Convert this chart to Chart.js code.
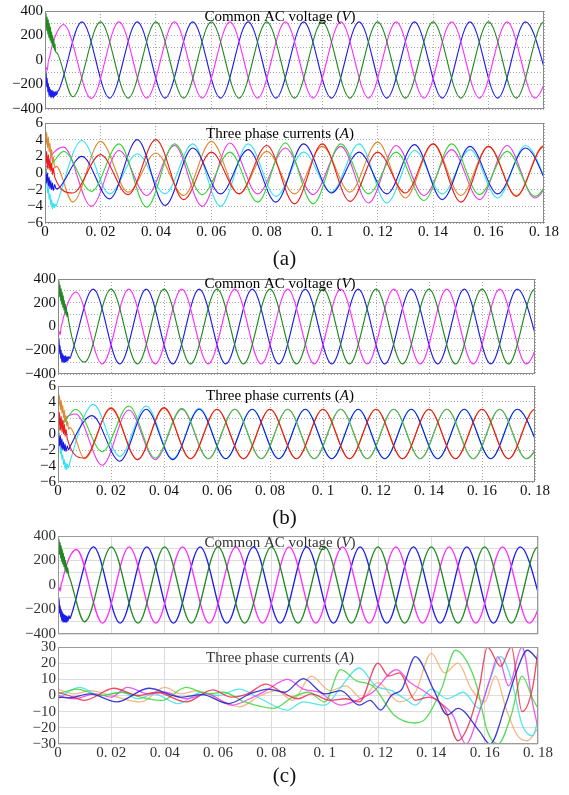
<!DOCTYPE html>
<html>
<head>
<meta charset="utf-8">
<script src="https://cdn.jsdelivr.net/npm/chart.js@4.4.1/dist/chart.umd.min.js"></script>
<style>
  body { margin: 0; background: #fff; }
  #wrap { position: relative; width: 569px; height: 795px; overflow: hidden; background: #fff; }
  canvas { position: absolute; left: 0; }
  .cap { position: absolute; left: 0; width: 569px; text-align: center; font: 21px "Liberation Serif", serif; color: #111; }
</style>
</head>
<body>
<div id="wrap">
  <canvas id="va" width="569" height="120" style="top:0px"></canvas>
  <canvas id="ca" width="569" height="135" style="top:112px"></canvas>
  <canvas id="vb" width="569" height="120" style="top:266px"></canvas>
  <canvas id="cb" width="569" height="130" style="top:375px"></canvas>
  <canvas id="vc" width="569" height="120" style="top:525px"></canvas>
  <canvas id="cc" width="569" height="130" style="top:636px"></canvas>
  <div class="cap" style="top:246px">(a)</div>
  <div class="cap" style="top:505px">(b)</div>
  <div class="cap" style="top:763px">(c)</div>
</div>
<script>
// ---- data: [time (s), value] ----

// (a) common AC voltage
const voltA_green = [[0,395],[0.0002,300],[0.0004,380],[0.0006,240],[0.0008,350],[0.001,210],[0.0012,330],[0.0014,180],[0.0016,300],[0.0018,160],[0.002,270],[0.0022,140],[0.0024,230],[0.0026,120],[0.0028,200],[0.003,100],[0.0032,170],[0.0034,80],[0.0036,130],[0.0038,70],[0.0042,60],
  [0.01,-300],[0.02,311],[0.03,-311],[0.04,311],[0.05,-311],[0.06,311],[0.07,-311],[0.08,311],[0.09,-311],[0.1,311],[0.11,-311],[0.12,311],[0.13,-311],[0.14,311],[0.15,-311],[0.16,311],[0.17,-311],[0.18,311],[0.19,-311]];
const voltA_magenta = [[0,-110],[0.0004,-60],[0.0008,-85],[0.0012,-10],[0.0016,20],[0.002,60],[0.0025,110],[0.003,150],[0.004,210],[0.005,255],
  [0.0067,290],[0.0167,-315],[0.0267,311],[0.0367,-311],[0.0467,311],[0.0567,-311],[0.0667,311],[0.0767,-311],[0.0867,311],[0.0967,-311],[0.1067,311],[0.1167,-311],[0.1267,311],[0.1367,-311],[0.1467,311],[0.1567,-311],[0.1667,311],[0.1767,-311],[0.1867,311]];
const voltA_blue = [[0,-30],[0.0002,-150],[0.0004,-90],[0.0006,-220],[0.0008,-150],[0.001,-260],[0.0012,-190],[0.0014,-290],[0.0016,-220],[0.0018,-300],[0.002,-240],[0.0022,-310],[0.0024,-250],[0.0026,-300],[0.0028,-250],[0.003,-310],[0.0032,-260],[0.0034,-300],[0.0036,-260],[0.0038,-290],[0.004,-255],[0.0042,-285],[0.0046,-255],[0.005,-245],
  [0.0133,311],[0.0233,-311],[0.0333,311],[0.0433,-311],[0.0533,311],[0.0633,-311],[0.0733,311],[0.0833,-311],[0.0933,311],[0.1033,-311],[0.1133,311],[0.1233,-311],[0.1333,311],[0.1433,-311],[0.1533,311],[0.1633,-311],[0.1733,311],[0.1833,-311]];

// (a) three phase currents
const curA_red = [[0,2.8],[0.0003,1.0],[0.0006,2.6],[0.0009,0.6],[0.0012,2.2],[0.0015,0.4],[0.0018,1.6],[0.0021,0.2],[0.0024,1.2],[0.0027,-0.2],[0.003,0.6],[0.0035,-0.5],
  [0.01,-2.4],[0.02,2.2],[0.03,-2.6],[0.04,4.0],[0.05,-3.2],[0.06,2.5],[0.07,-2.5],[0.08,3.3],[0.09,-3.7],[0.1,3.5],[0.11,-3.4],[0.12,2.5],[0.13,-2.4],[0.14,3.5],[0.15,-3.5],[0.16,3.2],[0.17,-2.8],[0.18,3.2],[0.19,-3]];
const curA_green = [[0,0.2],[0.001,0.6],[0.002,0.9],[0.003,1.3],
  [0.0067,2.6],[0.0167,-2.2],[0.0267,3.5],[0.0367,-4.1],[0.0467,3.5],[0.0567,-2.6],[0.0667,2.5],[0.0767,-3.5],[0.0867,3.6],[0.0967,-3.7],[0.1067,3.5],[0.1167,-2.5],[0.1267,2.5],[0.1367,-3.3],[0.1467,3.5],[0.1567,-2.6],[0.1667,2.6],[0.1767,-2.8],[0.1867,3]];
const curA_blue = [[0,-0.3],[0.0003,0.5],[0.0006,-1.2],[0.0009,0],[0.0012,-1.6],[0.0015,-0.5],[0.0018,-1.9],[0.0021,-0.9],[0.0024,-2.0],[0.0027,-1.2],[0.003,-2.1],[0.0035,-1.4],[0.004,-1.9],[0.005,-1.8],
  [0.0133,2.0],[0.0233,-3.1],[0.0333,4.0],[0.0433,-3.9],[0.0533,3.0],[0.0633,-2.5],[0.0733,2.8],[0.0833,-3.5],[0.0933,3.5],[0.1033,-2.4],[0.1133,2.5],[0.1233,-2.5],[0.1333,3.4],[0.1433,-3.2],[0.1533,3.2],[0.1633,-2.5],[0.1733,3.0],[0.1833,-3]];
const curA_orange = [[0,5.2],[0.0003,3.4],[0.0006,4.9],[0.0009,3.0],[0.0012,4.3],[0.0015,2.5],[0.0018,3.6],[0.0021,1.8],[0.0024,2.8],[0.0027,1.2],[0.003,1.9],[0.0035,0.6],[0.004,0.8],
  [0.01,-3.5],[0.02,3.8],[0.03,-2.3],[0.04,2.4],[0.05,-2.7],[0.06,3.8],[0.07,-2.5],[0.08,2.6],[0.09,-2.5],[0.1,3.2],[0.11,-2.3],[0.12,3.7],[0.13,-3.0],[0.14,3.5],[0.15,-2.7],[0.16,3.2],[0.17,-2.7],[0.18,3.3],[0.19,-3]];
const curA_magenta = [[0,0.5],[0.001,1.0],[0.002,1.8],[0.003,2.4],
  [0.0067,3.1],[0.0167,-4.0],[0.0267,2.7],[0.0367,-2.7],[0.0467,3.3],[0.0567,-4.0],[0.0667,3.6],[0.0767,-2.5],[0.0867,3.0],[0.0967,-2.6],[0.1067,3.2],[0.1167,-3.6],[0.1267,3.3],[0.1367,-2.7],[0.1467,2.8],[0.1567,-3.2],[0.1667,3.3],[0.1767,-3.0],[0.1867,3]];
const curA_cyan = [[0,0],[0.0003,-1.4],[0.0006,-0.7],[0.0009,-2.4],[0.0012,-1.7],[0.0015,-3.2],[0.0018,-2.5],[0.0021,-3.9],[0.0024,-3.2],[0.0027,-4.3],[0.003,-3.6],[0.0033,-4.2],[0.0036,-3.7],[0.004,-4.0],[0.0045,-3.5],
  [0.0133,3.9],[0.0233,-2.5],[0.0333,2.3],[0.0433,-2.5],[0.0533,3.5],[0.0633,-4.0],[0.0733,3.5],[0.0833,-2.8],[0.0933,2.5],[0.1033,-2.3],[0.1133,3.5],[0.1233,-3.6],[0.1333,2.7],[0.1433,-2.5],[0.1533,2.8],[0.1633,-3.0],[0.1733,3.3],[0.1833,-3]];

// (b) common AC voltage
const voltB_green = [[0,400],[0.0002,290],[0.0004,385],[0.0006,250],[0.0008,350],[0.001,215],[0.0012,320],[0.0014,185],[0.0016,290],[0.0018,160],[0.002,260],[0.0022,140],[0.0024,220],[0.0026,115],[0.0028,190],[0.003,95],[0.0032,160],[0.0034,80],[0.0036,120],[0.0039,60],
  [0.01,-300],[0.02,315],[0.03,-315],[0.04,315],[0.05,-315],[0.06,315],[0.07,-315],[0.08,315],[0.09,-315],[0.1,315],[0.11,-315],[0.12,315],[0.13,-315],[0.14,315],[0.15,-315],[0.16,315],[0.17,-315],[0.18,315],[0.19,-315]];
const voltB_magenta = [[0,-90],[0.0004,-40],[0.0008,-70],[0.0012,0],[0.0016,30],[0.002,70],[0.0025,110],[0.003,150],[0.004,210],[0.005,255],
  [0.0068,290],[0.0167,-315],[0.0267,315],[0.0367,-315],[0.0467,315],[0.0567,-315],[0.0667,315],[0.0767,-315],[0.0867,315],[0.0967,-315],[0.1067,315],[0.1167,-315],[0.1267,315],[0.1367,-315],[0.1467,315],[0.1567,-315],[0.1667,315],[0.1767,-315],[0.1867,315]];
const voltB_blue = [[0,-40],[0.0002,-160],[0.0004,-100],[0.0006,-230],[0.0008,-160],[0.001,-270],[0.0012,-200],[0.0014,-295],[0.0016,-225],[0.0018,-300],[0.002,-240],[0.0022,-305],[0.0024,-250],[0.0026,-300],[0.0028,-245],[0.003,-300],[0.0032,-255],[0.0034,-295],[0.0036,-255],[0.0038,-285],[0.0041,-250],[0.0045,-270],[0.005,-240],
  [0.0133,315],[0.0233,-315],[0.0333,315],[0.0433,-315],[0.0533,315],[0.0633,-315],[0.0733,315],[0.0833,-315],[0.0933,315],[0.1033,-315],[0.1133,315],[0.1233,-315],[0.1333,315],[0.1433,-315],[0.1533,315],[0.1633,-315],[0.1733,315],[0.1833,-315]];

// (b) three phase currents
const curB_red = [[0,2.6],[0.0003,0.8],[0.0006,2.7],[0.0009,0.5],[0.0012,2.2],[0.0015,0.2],[0.0018,1.8],[0.0021,0],[0.0024,1.2],[0.0027,-0.3],[0.003,0.6],[0.0035,-0.6],
  [0.0098,-3.0],[0.02,3.2],[0.03,-3.2],[0.04,3.3],[0.05,-3.1],[0.06,3.1],[0.07,-3.1],[0.08,3.1],[0.09,-3.1],[0.1,3.1],[0.11,-3.1],[0.12,3.1],[0.13,-3.1],[0.14,3.1],[0.15,-3.1],[0.16,3.1],[0.17,-3.1],[0.18,3.1],[0.19,-3.1]];
const curB_green = [[0,0.2],[0.001,0.8],[0.002,1.3],[0.003,1.8],
  [0.0067,3.1],[0.0167,-2.2],[0.0267,3.5],[0.0367,-3.0],[0.0467,3.2],[0.0567,-3.1],[0.0667,3.1],[0.0767,-3.1],[0.0867,3.1],[0.0967,-3.1],[0.1067,3.1],[0.1167,-3.1],[0.1267,3.1],[0.1367,-3.1],[0.1467,3.1],[0.1567,-3.1],[0.1667,3.1],[0.1767,-3.1],[0.1867,3.1]];
const curB_blue = [[0,-0.5],[0.0003,0.3],[0.0006,-1.5],[0.0009,-0.2],[0.0012,-1.8],[0.0015,-0.6],[0.0018,-2.0],[0.0021,-1.0],[0.0024,-2.1],[0.0027,-1.3],[0.003,-2.2],[0.0035,-1.5],[0.004,-2.0],[0.0045,-1.6],
  [0.0128,2.3],[0.0233,-3.4],[0.0333,3.1],[0.0433,-3.2],[0.0533,3.1],[0.0633,-3.1],[0.0733,3.1],[0.0833,-3.1],[0.0933,3.1],[0.1033,-3.1],[0.1133,3.1],[0.1233,-3.1],[0.1333,3.1],[0.1433,-3.1],[0.1533,3.1],[0.1633,-3.1],[0.1733,3.1],[0.1833,-3.1]];
const curB_orange = [[0,5.3],[0.0003,3.5],[0.0006,4.8],[0.0009,3.0],[0.0012,4.2],[0.0015,2.6],[0.0018,3.6],[0.0021,2.0],[0.0024,3.0],[0.0027,1.5],[0.003,2.3],[0.0033,1.0],[0.0036,1.6],[0.004,0.6],[0.0045,0.8],
  [0.01,-3.1],[0.02,3.3],[0.03,-3.2],[0.04,3.2],[0.05,-3.1],[0.06,3.1],[0.07,-3.1],[0.08,3.1],[0.09,-3.1],[0.1,3.1],[0.11,-3.1],[0.12,3.1],[0.13,-3.1],[0.14,3.1],[0.15,-3.1],[0.16,3.1],[0.17,-3.1],[0.18,3.1],[0.19,-3.1]];
const curB_magenta = [[0,0.4],[0.001,1.0],[0.002,1.5],[0.003,2.0],
  [0.0067,2.5],[0.0167,-3.9],[0.0267,3.0],[0.0367,-3.2],[0.0467,3.1],[0.0567,-3.1],[0.0667,3.1],[0.0767,-3.1],[0.0867,3.1],[0.0967,-3.1],[0.1067,3.1],[0.1167,-3.1],[0.1267,3.1],[0.1367,-3.1],[0.1467,3.1],[0.1567,-3.1],[0.1667,3.1],[0.1767,-3.1],[0.1867,3.1]];
const curB_cyan = [[0,0],[0.0003,-1.5],[0.0006,-0.8],[0.0009,-2.5],[0.0012,-1.8],[0.0015,-3.2],[0.0018,-2.6],[0.0021,-3.8],[0.0024,-3.2],[0.0027,-4.4],[0.003,-3.6],[0.0033,-4.5],[0.0036,-3.8],[0.004,-4.2],[0.0045,-3.5],
  [0.0133,3.7],[0.0233,-2.8],[0.0333,3.5],[0.0433,-3.1],[0.0533,3.2],[0.0633,-3.1],[0.0733,3.1],[0.0833,-3.1],[0.0933,3.1],[0.1033,-3.1],[0.1133,3.1],[0.1233,-3.1],[0.1333,3.1],[0.1433,-3.1],[0.1533,3.1],[0.1633,-3.1],[0.1733,3.1],[0.1833,-3.1]];

// (c) common AC voltage
const voltC_green = [[0,395],[0.0002,300],[0.0004,370],[0.0006,250],[0.0008,345],[0.001,220],[0.0012,320],[0.0014,190],[0.0016,290],[0.0018,170],[0.002,260],[0.0022,150],[0.0024,230],[0.0026,130],[0.0028,200],[0.003,110],[0.0032,170],[0.0034,95],[0.0036,140],[0.004,80],[0.0045,50],
  [0.01,-300],[0.02,311],[0.03,-311],[0.04,311],[0.05,-311],[0.06,311],[0.07,-311],[0.08,311],[0.09,-311],[0.1,311],[0.11,-311],[0.12,311],[0.13,-311],[0.14,311],[0.15,-311],[0.16,311],[0.17,-311],[0.18,311],[0.19,-311]];
const voltC_magenta = [[0,-60],[0.0004,-20],[0.0008,-50],[0.0012,10],[0.0016,30],[0.002,70],[0.0025,110],[0.003,150],[0.004,210],[0.005,255],
  [0.0069,290],[0.0167,-311],[0.0267,311],[0.0367,-311],[0.0467,311],[0.0567,-311],[0.0667,311],[0.0767,-311],[0.0867,311],[0.0967,-311],[0.1067,311],[0.1167,-311],[0.1267,311],[0.1367,-311],[0.1467,311],[0.1567,-311],[0.1667,311],[0.1767,-311],[0.1867,311]];
const voltC_blue = [[0,-60],[0.0002,-170],[0.0004,-110],[0.0006,-230],[0.0008,-170],[0.001,-260],[0.0012,-200],[0.0014,-290],[0.0016,-220],[0.0018,-300],[0.002,-235],[0.0022,-305],[0.0024,-245],[0.0026,-300],[0.0028,-250],[0.003,-305],[0.0032,-255],[0.0034,-300],[0.0036,-260],[0.0038,-290],[0.0041,-250],[0.0045,-275],[0.005,-245],
  [0.0133,311],[0.0233,-311],[0.0333,311],[0.0433,-311],[0.0533,311],[0.0633,-311],[0.0733,311],[0.0833,-311],[0.0933,311],[0.1033,-311],[0.1133,311],[0.1233,-311],[0.1333,311],[0.1433,-311],[0.1533,311],[0.1633,-311],[0.1733,311],[0.1833,-311]];

// (c) three phase currents
const curC_red = [[0,2],[0.004,0],[0.01,-3],[0.021,4.5],[0.03,0],[0.037,2],[0.048,-4],[0.058,3.5],[0.065,-1],[0.071,1],[0.078,7],[0.084,2],[0.09,-2],[0.095,1],[0.102,-3],[0.108,-2],[0.113,-4],[0.12,20],[0.124,12],[0.128,14],[0.134,-3],[0.139,-1],[0.145,-8],[0.15,-28],[0.154,-18],[0.158,5],[0.161,30],[0.166,18],[0.17,30],[0.174,-10],[0.178,5],[0.18,28]];
const curC_green = [[0,1],[0.007,4],[0.016,0],[0.024,2],[0.031,-1],[0.039,-3],[0.048,5],[0.056,1],[0.062,2],[0.07,-4],[0.081,-8],[0.088,-1],[0.094,2],[0.1,-4],[0.106,16],[0.112,9],[0.118,6],[0.126,-12],[0.134,-17],[0.138,-14],[0.144,5],[0.149,28],[0.153,22],[0.157,6],[0.161,-22],[0.165,-30],[0.17,-12],[0.174,12],[0.178,-2],[0.18,-8]];
const curC_blue = [[0,-1],[0.004,-1.5],[0.012,1],[0.022,-4],[0.034,4.5],[0.046,-1],[0.054,0.5],[0.064,-5],[0.072,1],[0.079,4],[0.085,2],[0.092,10.5],[0.1,1],[0.106,3],[0.113,-6],[0.117,-3],[0.121,-9],[0.125,0],[0.129,4],[0.134,24],[0.141,3],[0.146,-12],[0.15,-8],[0.158,-22],[0.162,-30],[0.168,-5],[0.172,15],[0.176,28],[0.18,22]];
const curC_magenta = [[0,0],[0.006,-2],[0.014,1],[0.02,-1],[0.026,5],[0.034,1],[0.04,2],[0.048,-2],[0.056,1],[0.065,-6],[0.072,-2],[0.078,3],[0.086,10],[0.092,4],[0.098,2],[0.106,-6],[0.112,-3],[0.118,2],[0.127,16],[0.132,8],[0.136,4],[0.142,-3],[0.148,-12],[0.153,-30],[0.158,-10],[0.162,10],[0.165,24],[0.169,6],[0.174,30],[0.178,-5],[0.18,-20]];
const curC_cyan = [[0,-2],[0.008,5],[0.016,0],[0.024,2],[0.03,-2],[0.036,1],[0.045,-5],[0.054,2],[0.06,0],[0.068,4],[0.076,-2],[0.086,-9],[0.092,-4],[0.1,-6],[0.106,5],[0.113,17],[0.119,6],[0.125,3],[0.13,-2],[0.134,-6],[0.14,4],[0.146,-2],[0.152,2],[0.158,-8],[0.162,10],[0.166,24],[0.17,10],[0.174,-18],[0.178,-25],[0.18,-15]];
const curC_orange = [[0,4],[0.006,1],[0.012,3],[0.02,0],[0.031,-4],[0.04,5],[0.046,1],[0.052,3],[0.06,-2],[0.068,-7],[0.076,0],[0.082,3],[0.088,-3],[0.095,12],[0.102,3],[0.108,6],[0.114,-2],[0.12,8],[0.128,-4],[0.134,2],[0.14,26],[0.145,14],[0.15,20],[0.155,4],[0.16,-4],[0.164,12],[0.168,-8],[0.172,-24],[0.176,-28],[0.18,-20]];

const timeTicks = [0, 0.02, 0.04, 0.06, 0.08, 0.1, 0.12, 0.14, 0.16, 0.18];

// ---- drawing ----
Chart.defaults.font.family = '"Liberation Serif", "Times New Roman", serif';
Chart.defaults.color = '#111';

// box around plot + title text inside the plot
const framePlugin = {
  id: 'frame',
  afterDatasetsDraw(chart, args, opts) {
    const ctx = chart.ctx, a = chart.chartArea;
    ctx.save();
    ctx.strokeStyle = opts.color;
    ctx.lineWidth = 1;
    ctx.strokeRect(Math.round(a.left) + 0.5, Math.round(a.top) + 0.5, Math.round(a.right - a.left) - 1, Math.round(a.bottom - a.top) - 1);
    if (opts.title) {
      const parts = opts.title;
      let w = 0;
      parts.forEach(p => {
        ctx.font = (p.italic ? 'italic ' : '') + '15px "Liberation Serif"';
        p.w = ctx.measureText(p.text).width;
        w += p.w;
      });
      let x = opts.titleX - w / 2;
      ctx.fillStyle = opts.titleColor || '#000';
      ctx.textBaseline = 'middle';
      parts.forEach(p => {
        ctx.font = (p.italic ? 'italic ' : '') + '15px "Liberation Serif"';
        ctx.fillText(p.text, x, a.top + opts.titleDy);
        x += p.w;
      });
    }
    ctx.restore();
  }
};

function minus(v) {
  return v < 0 ? '\u2212' + Math.abs(v) : String(v);
}

function makeChart(id, o) {
  const faded = o.faded;
  const gridColor = faded ? '#dcdcdc' : '#a8a8a8';
  return new Chart(document.getElementById(id), {
    type: 'line',
    data: {
      datasets: o.series.map(s => ({
        data: s[0],
        borderColor: s[1],
        borderWidth: faded ? 1.3 : 1.1,
        pointRadius: 0,
        fill: false,
        cubicInterpolationMode: 'monotone'
      }))
    },
    options: {
      responsive: false,
      animation: false,
      devicePixelRatio: 1,
      events: [],
      layout: { padding: o.pad },
      plugins: {
        legend: { display: false },
        tooltip: { enabled: false },
        frame: { color: faded ? '#9a9a9a' : '#8a8a8a', title: o.title, titleX: 280, titleDy: o.titleDy, titleColor: faded ? '#333' : '#000' }
      },
      scales: {
        x: {
          type: 'linear', min: 0, max: 0.18,
          afterBuildTicks: s => { s.ticks = timeTicks.map(v => ({ value: v })); },
          grid: { color: gridColor, drawTicks: false, lineWidth: 1 },
          border: { display: false, dash: faded ? [] : [1, 2] },
          ticks: {
            display: o.xLabels, padding: 0, maxRotation: 0, autoSkip: false,
            font: { size: 15 }, color: faded ? '#333' : '#111',
            callback: v => (v === 0 ? '0' : '0. ' + String(Math.round(v * 100) / 100).slice(2))
          },
          afterFit: s => { s.height = o.xh; }
        },
        y: {
          min: o.ymin, max: o.ymax,
          afterBuildTicks: s => { s.ticks = o.grid.map(v => ({ value: v })); },
          grid: { color: gridColor, drawTicks: false, lineWidth: 1 },
          border: { display: false, dash: faded ? [] : [1, 2] },
          ticks: {
            padding: 2, autoSkip: false, font: { size: 15 }, color: faded ? '#333' : '#111',
            callback: v => (o.labels.includes(v) ? minus(v) : '')
          },
          afterFit: s => { s.width = o.yw; }
        }
      }
    },
    plugins: [framePlugin]
  });
}

const vGrid = [-400, -300, -200, -100, 0, 100, 200, 300, 400];
const vLabels = [-400, -200, 0, 200, 400];
const iGrid = [-6, -4, -2, 0, 2, 4, 6];
const iGridC = [-30, -20, -10, 0, 10, 20, 30];
const vTitle = [{ text: 'Common AC voltage (' }, { text: 'V', italic: true }, { text: ')' }];
const iTitle = [{ text: 'Three phase currents (' }, { text: 'A', italic: true }, { text: ')' }];

const C = {
  vGreen: '#1f8a1f', vMag: '#ff2cff', vBlue: '#1c1cf0',
  red: '#f01818', green: '#2fd82f', blue: '#1818e6', orange: '#e0862a', mag: '#f034f0', cyan: '#30e4f2'
};

makeChart('va', {
  series: [[voltA_green, C.vGreen], [voltA_magenta, C.vMag], [voltA_blue, C.vBlue]],
  pad: { left: 0, right: 25, top: 9, bottom: 11 }, yw: 45, xh: 0, xLabels: false,
  ymin: -400, ymax: 400, grid: vGrid, labels: vLabels, title: vTitle, titleDy: 6
});
makeChart('ca', {
  series: [[curA_red, C.red], [curA_green, C.green], [curA_blue, C.blue], [curA_orange, C.orange], [curA_magenta, C.mag], [curA_cyan, C.cyan]],
  pad: { left: 0, right: 25, top: 10, bottom: 0 }, yw: 45, xh: 24, xLabels: true,
  ymin: -6, ymax: 6, grid: iGrid, labels: iGrid, title: iTitle, titleDy: 11
});
makeChart('vb', {
  series: [[voltB_green, C.vGreen], [voltB_magenta, C.vMag], [voltB_blue, C.vBlue]],
  pad: { left: 0, right: 34, top: 13, bottom: 12 }, yw: 58, xh: 0, xLabels: false,
  ymin: -400, ymax: 400, grid: vGrid, labels: vLabels, title: vTitle, titleDy: 5
});
makeChart('cb', {
  series: [[curB_red, C.red], [curB_green, C.green], [curB_blue, C.blue], [curB_orange, C.orange], [curB_magenta, C.mag], [curB_cyan, C.cyan]],
  pad: { left: 0, right: 34, top: 10, bottom: 0 }, yw: 58, xh: 23, xLabels: true,
  ymin: -6, ymax: 6, grid: iGrid, labels: iGrid, title: iTitle, titleDy: 10
});
makeChart('vc', {
  series: [[voltC_green, C.vGreen], [voltC_magenta, C.vMag], [voltC_blue, C.vBlue]],
  pad: { left: 0, right: 31, top: 11, bottom: 11 }, yw: 58, xh: 0, xLabels: false, faded: true,
  ymin: -400, ymax: 400, grid: vGrid, labels: vLabels, title: vTitle, titleDy: 7
});
makeChart('cc', {
  series: [[curC_blue, 'rgba(40,40,210,0.9)'], [curC_red, 'rgba(240,40,70,0.85)'], [curC_green, 'rgba(60,215,60,0.85)'], [curC_magenta, 'rgba(235,60,235,0.85)'], [curC_cyan, 'rgba(60,225,235,0.85)'], [curC_orange, 'rgba(245,170,110,0.85)']],
  pad: { left: 0, right: 31, top: 10, bottom: 0 }, yw: 58, xh: 22, xLabels: true, faded: true,
  ymin: -30, ymax: 30, grid: iGridC, labels: iGridC, title: iTitle, titleDy: 11
});
</script>
</body>
</html>
